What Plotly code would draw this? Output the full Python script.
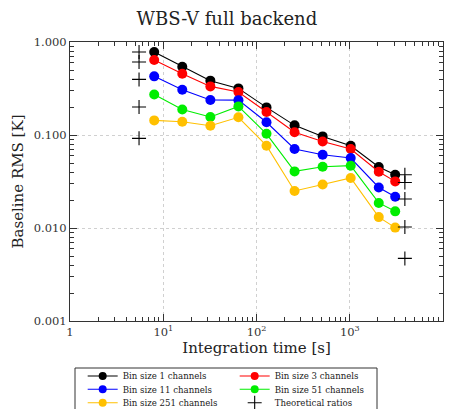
import plotly.graph_objects as go

time_s = [8, 16, 32, 64, 128, 256, 512, 1024, 2048, 3072]
bin1 = [0.781, 0.542, 0.384, 0.317, 0.198, 0.127, 0.0966, 0.0767, 0.0453, 0.0374]
bin3 = [0.640, 0.456, 0.333, 0.290, 0.177, 0.107, 0.0853, 0.0707, 0.0403, 0.0317]
bin11 = [0.427, 0.307, 0.238, 0.237, 0.137, 0.0707, 0.0614, 0.0565, 0.0273, 0.0217]
bin51 = [0.273, 0.188, 0.156, 0.203, 0.103, 0.0406, 0.0456, 0.0468, 0.0186, 0.0151]
bin251 = [0.1435, 0.139, 0.126, 0.155, 0.0767, 0.025, 0.0294, 0.0345, 0.0131, 0.0101]

theo_x_left = [5.5, 5.5, 5.5, 5.5, 5.5]
theo_y_left = [0.781, 0.609, 0.396, 0.200, 0.092]
theo_x_right = [3900, 3900, 3900, 3900, 3900]
theo_y_right = [0.0374, 0.0309, 0.0205, 0.01026, 0.00471]

series = [
    ("Bin size 1 channels", bin1, "#000000", "legend"),
    ("Bin size 3 channels", bin3, "#ff0000", "legend"),
    ("Bin size 11 channels", bin11, "#0000ff", "legend2"),
    ("Bin size 51 channels", bin51, "#00ee00", "legend2"),
    ("Bin size 251 channels", bin251, "#ffc000", "legend3"),
]

x_label_alias = {"10": "10<sup>1</sup>", "100": "10<sup>2</sup>",
                 "1000": "10<sup>3</sup>", "10k": "10<sup>4</sup>", "10000": "10<sup>4</sup>"}

serif = "DejaVu Serif"
fig = go.Figure()
for name, vals, col, lg in series:
    fig.add_trace(go.Scatter(
        x=time_s, y=vals, name=name, mode="lines+markers",
        line=dict(color=col, width=1.1),
        marker=dict(color=col, size=10, symbol="circle"),
        showlegend=False,
    ))
    fig.add_trace(go.Scatter(
        x=[None], y=[None], name=name, mode="lines+markers", legend=lg,
        line=dict(color=col, width=1.1),
        marker=dict(color=col, size=8, symbol="circle"),
    ))

fig.add_trace(go.Scatter(
    x=theo_x_left + theo_x_right, y=theo_y_left + theo_y_right,
    name="Theoretical ratios", mode="markers", legend="legend3",
    marker=dict(symbol="cross-thin", size=10, line=dict(color="black", width=1.1)),
))

# invisible trace to activate the mirrored (top/right) axes
fig.add_trace(go.Scatter(x=[None], y=[None], xaxis="x2", yaxis="y2", showlegend=False))

minor = dict(ticks="inside", ticklen=4, tickcolor="#333", tickwidth=1, showgrid=False)
common = dict(type="log", dtick=1, showline=True, linecolor="#333", linewidth=1,
              ticks="inside", ticklen=7, tickcolor="#333", tickwidth=1, minor=minor)

fig.update_layout(
    xaxis=dict(
        range=[0, 4], labelalias=x_label_alias,
        showgrid=True, gridcolor="#d0d0d0", griddash="3px,3px", gridwidth=1,
        tickfont=dict(family=serif, size=11.5, color="#333"),
        title=dict(text="Integration time [s]", font=dict(family=serif, size=15, color="#222"), standoff=3),
        **common,
    ),
    yaxis=dict(
        range=[-3, 0], tickformat=".3f",
        showgrid=True, gridcolor="#d0d0d0", griddash="3px,3px", gridwidth=1,
        tickfont=dict(family=serif, size=11.5, color="#333"),
        title=dict(text="Baseline RMS [K]", font=dict(family=serif, size=15, color="#222"), standoff=6),
        **common,
    ),
    xaxis2=dict(overlaying="x", side="top", anchor="y", range=[0, 4],
                showticklabels=False, showgrid=False, **common),
    yaxis2=dict(overlaying="y", side="right", anchor="x", range=[-3, 0],
                showticklabels=False, showgrid=False, **common),
)

leg_common = dict(orientation="h", xanchor="left", yanchor="middle", borderwidth=0,
                  bgcolor="rgba(0,0,0,0)", font=dict(family=serif, size=8.6, color="#222"),
                  entrywidth=107, itemwidth=30, tracegroupgap=0)
lx = 0.034
fig.update_layout(
    width=451, height=409,
    margin=dict(l=70, r=8, t=42, b=88, autoexpand=False),
    paper_bgcolor="white", plot_bgcolor="white",
    title=dict(text="WBS-V full backend", x=0.503, xanchor="center", xref="container",
               y=0.955, yanchor="middle", yref="container",
               font=dict(family=serif, size=18, color="#222")),
    legend=dict(x=lx, y=(321 - 376) / 279, **leg_common),
    legend2=dict(x=lx, y=(321 - 389.3) / 279, **leg_common),
    legend3=dict(x=lx, y=(321 - 402.7) / 279, **leg_common),
    shapes=[dict(type="rect", xref="paper", yref="paper",
                 x0=(75 - 70) / 373, x1=(377 - 70) / 373,
                 y0=(321 - 368) / 279, y1=-0.5,
                 line=dict(color="#333", width=1), fillcolor="rgba(0,0,0,0)")],
)

fig.write_html("out.html")
